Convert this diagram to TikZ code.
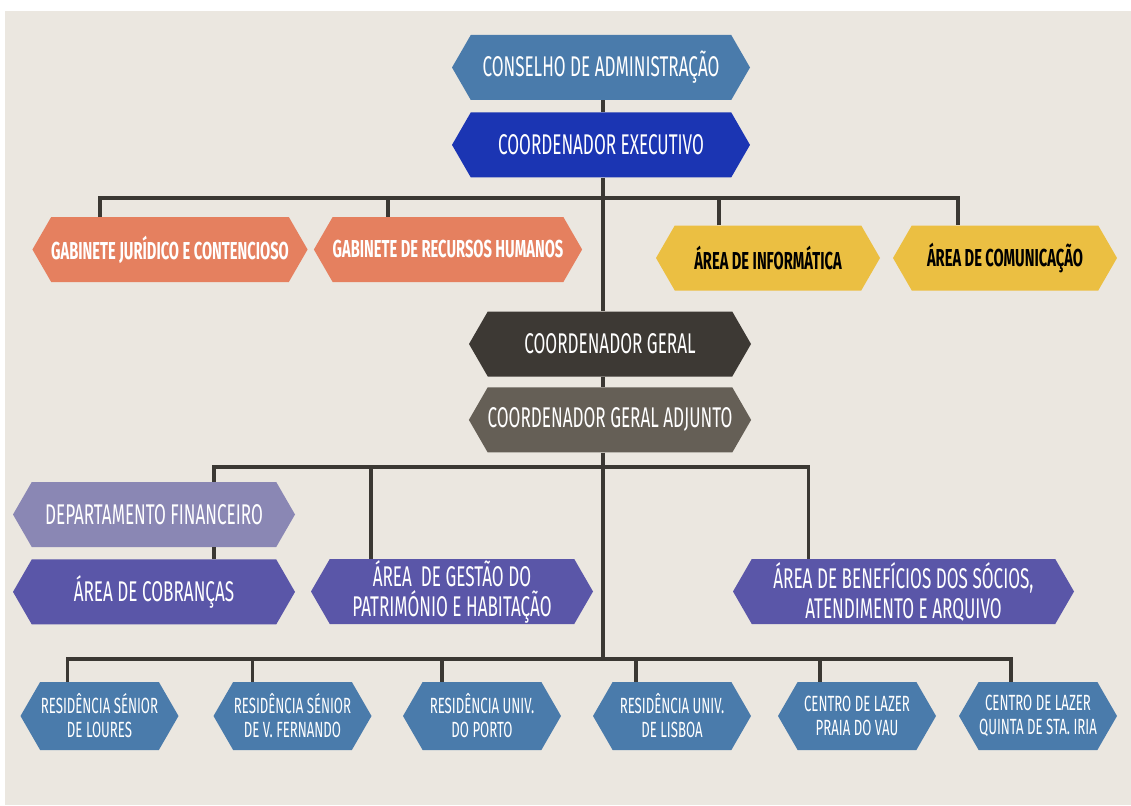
\documentclass[tikz,border=0pt]{standalone}
\usepackage{fontspec}
\setmainfont{Fira Sans}[FakeStretch=0.6]
\usetikzlibrary{positioning}
\usetikzlibrary{shapes.symbols}

\definecolor{bgbeige}{HTML}{EBE7E0}
\definecolor{steelblue}{HTML}{4A7BAB}
\definecolor{royalblue}{HTML}{1B35B3}
\definecolor{coral}{HTML}{E5805F}
\definecolor{mustard}{HTML}{EBBF42}
\definecolor{charcoal}{HTML}{3D3934}
\definecolor{taupe}{HTML}{655F56}
\definecolor{lavender}{HTML}{8A87B4}
\definecolor{violet}{HTML}{5A56A8}
\definecolor{linegray}{HTML}{3B3833}

\begin{document}
\begin{tikzpicture}[x=1pt,y=1pt,
	hexbox/.style={signal, signal to=west and east, signal pointer angle=120,
		inner sep=0pt, minimum height=65pt, text=white, align=center},
	bigtext/.style={font=\fontsize{28.5}{30}\selectfont},
	boldtext/.style={font=\bfseries\fontsize{24.5}{28}\selectfont},
	smalltext/.style={font=\fontsize{22}{24}\selectfont},
	link/.style={draw=linegray, line width=3.5pt}]

	\useasboundingbox (0,0) rectangle (1131,-805);
	\fill[bgbeige] (5,-11) rectangle (1131,-805);

	% top
	\node[hexbox, bigtext, fill=steelblue, minimum width=298pt] (ca) at (601,-67.5) {CONSELHO DE ADMINISTRAÇÃO};
	\node[hexbox, bigtext, fill=royalblue, minimum width=298pt, below=12pt of ca] (ce) {COORDENADOR EXECUTIVO};

	\node[hexbox, boldtext, fill=coral, minimum width=265pt] (gj) at (170,-249.5) {GABINETE JURÍDICO E CONTENCIOSO};
	\node[hexbox, boldtext, fill=coral, minimum width=264pt] (grh) at (448,-249.5) {GABINETE DE RECURSOS HUMANOS};
	\node[hexbox, boldtext, fill=mustard, text=black, minimum width=224pt] (ai) at (768,-258) {ÁREA DE INFORMÁTICA};
	\node[hexbox, boldtext, fill=mustard, text=black, minimum width=224pt] (ac) at (1005,-258) {ÁREA DE COMUNICAÇÃO};

	% middle
	\node[hexbox, bigtext, fill=charcoal, minimum width=282pt] (cg) at (610,-344) {COORDENADOR GERAL};
	\node[hexbox, bigtext, fill=taupe, minimum width=282pt, below=10.5pt of cg] (cga) {COORDENADOR GERAL ADJUNTO};

	\node[hexbox, bigtext, fill=lavender, minimum width=282pt] (df) at (154,-514.5) {DEPARTAMENTO FINANCEIRO};
	\node[hexbox, bigtext, fill=violet, minimum width=282pt, below=12pt of df] (acb) {ÁREA DE COBRANÇAS};
	\node[hexbox, bigtext, fill=violet, minimum width=282pt] (agp) at (452,-591.5) {ÁREA\ \ DE GESTÃO DO\\PATRIMÓNIO E HABITAÇÃO};
	\node[hexbox, bigtext, fill=violet, minimum width=341pt] (abs) at (903.5,-591.5) {ÁREA DE BENEFÍCIOS DOS SÓCIOS,\\ATENDIMENTO E ARQUIVO};

	% bottom
	\node[hexbox, smalltext, fill=steelblue, minimum width=158pt, minimum height=68pt] (r1) at (99.5,-716) {RESIDÊNCIA SÉNIOR\\DE LOURES};
	\node[hexbox, smalltext, fill=steelblue, minimum width=158pt, minimum height=68pt] (r2) at (292.5,-716) {RESIDÊNCIA SÉNIOR\\DE V. FERNANDO};
	\node[hexbox, smalltext, fill=steelblue, minimum width=158pt, minimum height=68pt] (r3) at (482,-716) {RESIDÊNCIA UNIV.\\DO PORTO};
	\node[hexbox, smalltext, fill=steelblue, minimum width=158pt, minimum height=68pt] (r4) at (672,-716) {RESIDÊNCIA UNIV.\\DE LISBOA};
	\node[hexbox, smalltext, fill=steelblue, minimum width=158pt, minimum height=68pt] (r5) at (857,-716) {CENTRO DE LAZER\\PRAIA DO VAU};
	\node[hexbox, smalltext, fill=steelblue, minimum width=158pt, minimum height=68pt] (r6) at (1038,-716) {CENTRO DE LAZER\\QUINTA DE STA. IRIA};

	% connectors
	\draw[link] ([xshift=2pt]ca.south) -- ([xshift=2pt]ce.north);
	\draw[link] ([xshift=2pt]ce.south) -- ([xshift=-7pt]cg.north);
	\draw[link] ([xshift=-70pt]gj.north) -- ++(0,19) -| ([xshift=-47pt]ac.north);
	\draw[link] ([xshift=-60pt]grh.north) -- ++(0,19);
	\draw[link] ([xshift=-49pt]ai.north) -- ++(0,27);
	\draw[link] ([xshift=-7pt]cg.south) -- ([xshift=-7pt]cga.north);

	\draw[link] ([xshift=60pt]df.north) -- ++(0,15) -| ([xshift=-95pt]abs.north);
	\draw[link] ([xshift=60pt]df.south) -- ([xshift=60pt]acb.north);
	\draw[link] ([xshift=-81pt]agp.north) -- ++(0,92);

	\coordinate (bb) at (0,-659);
	\draw[link] ([xshift=-7pt]cga.south) -- ([xshift=-7pt]cga.south |- bb);
	\draw[link] ([xshift=-32pt]r1.north) -- ++(0,23) -| ([xshift=-27pt]r6.north);
	\foreach \n/\d in {r2/-40,r3/-40,r4/-36,r5/-37}
		\draw[link] ([xshift=\d pt]\n.north) -- ++(0,23);

\end{tikzpicture}
\end{document}
